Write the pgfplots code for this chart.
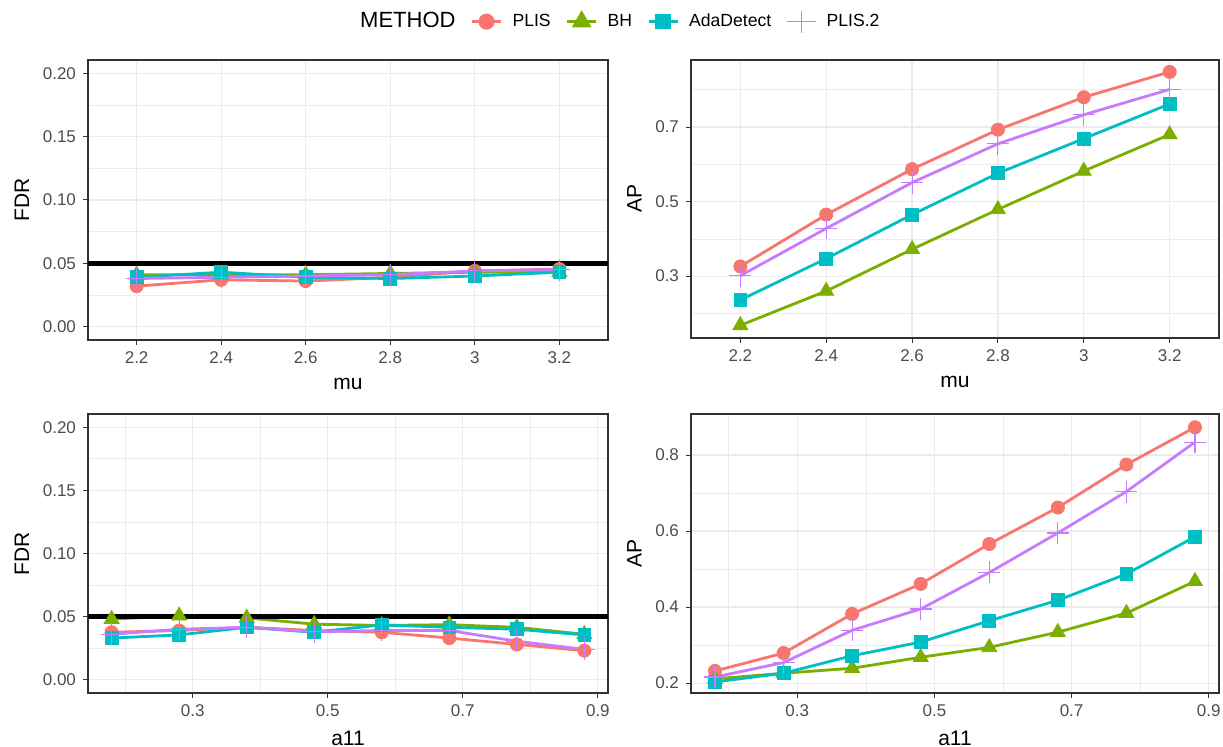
\documentclass[border=0pt]{standalone}
\usepackage{fontspec}
\setmainfont{Liberation Sans}
\usepackage{pgfplots}
\usepackage{pgfplotstable}
\pgfplotsset{compat=1.18}
\definecolor{cPLIS}{HTML}{F8766D}
\definecolor{cBH}{HTML}{7CAE00}
\definecolor{cAda}{HTML}{00BFC4}
\definecolor{cPLtwo}{HTML}{C77CFF}
\definecolor{gridc}{HTML}{EBEBEB}
\definecolor{tickc}{HTML}{4D4D4D}
\definecolor{framec}{HTML}{333333}

\pgfplotstableread{
x PLIS BH Ada PLtwo
2.2 0.032 0.041 0.039 0.038
2.4 0.037 0.041 0.043 0.039
2.6 0.036 0.041 0.039 0.040
2.8 0.039 0.042 0.038 0.041
3.0 0.044 0.043 0.040 0.044
3.2 0.0455 0.043 0.043 0.045
}\tabTL
\pgfplotstableread{
x PLIS BH Ada PLtwo
2.2 0.326 0.168 0.236 0.301
2.4 0.465 0.260 0.347 0.428
2.6 0.587 0.372 0.465 0.551
2.8 0.693 0.479 0.576 0.655
3.0 0.780 0.582 0.669 0.733
3.2 0.848 0.680 0.762 0.801
}\tabTR
\pgfplotstableread{
x PLIS BH Ada PLtwo
0.18 0.0376 0.048 0.033 0.036
0.28 0.039 0.0507 0.0355 0.040
0.38 0.0415 0.049 0.0415 0.0415
0.48 0.039 0.044 0.0376 0.038
0.58 0.0376 0.043 0.0434 0.039
0.68 0.033 0.0436 0.0415 0.039
0.78 0.028 0.0415 0.040 0.0305
0.88 0.023 0.036 0.0355 0.024
}\tabBL
\pgfplotstableread{
x PLIS BH Ada PLtwo
0.18 0.232 0.211 0.203 0.216
0.28 0.279 0.226 0.226 0.254
0.38 0.382 0.239 0.272 0.339
0.48 0.461 0.268 0.308 0.395
0.58 0.566 0.294 0.364 0.491
0.68 0.662 0.334 0.418 0.595
0.78 0.775 0.384 0.487 0.704
0.88 0.873 0.468 0.585 0.834
}\tabBR

\pgfplotsset{
 gg/.style={
  scale only axis,
  axis line style={framec, line width=0.6pt},
  grid=both,
  major grid style={gridc, line width=0.6pt},
  minor grid style={gridc, line width=0.35pt},
  tick align=outside, major tick length=2.5pt, minor tick length=0pt,
  every tick/.style={framec, line width=0.5pt},
  xtick pos=bottom, ytick pos=left,
  ticklabel style={font=\fontsize{8.5}{9}\selectfont, text=tickc},
  label style={font=\fontsize{10.5}{12}\selectfont},
  clip=true,
 },
 ln/.style={no marks, line width=1.4pt, forget plot},
 mkP/.style={only marks, mark=*, mark size=3.3pt, cPLIS, forget plot},
 mkB/.style={only marks, mark=triangle*, mark size=4.3pt, cBH, forget plot},
 mkA/.style={only marks, mark=square*, mark size=3.2pt, cAda, forget plot},
 mkT/.style={only marks, mark=+, mark size=5.5pt, cPLtwo, mark options={line width=0.55pt}, forget plot},
 topx/.style={xmin=2.085, xmax=3.315, xtick={2.2,2.4,2.6,2.8,3.0,3.2},
   xticklabels={2.2,2.4,2.6,2.8,3,3.2}, xlabel={mu}},
 botx/.style={xmin=0.145, xmax=0.915, xtick={0.3,0.5,0.7,0.9},
   xticklabels={0.3,0.5,0.7,0.9}, minor xtick={0.2,0.4,0.6,0.8}, xlabel={a11}},
 fdry/.style={ymin=-0.0105, ymax=0.2105, ytick={0,0.05,0.10,0.15,0.20},
   yticklabels={0.00,0.05,0.10,0.15,0.20}, minor ytick={0.025,0.075,0.125,0.175}, ylabel={FDR}},
}

\newcommand{\allseries}[1]{%
  \addplot[ln, cPLIS] table[x=x,y=PLIS] {#1};
  \addplot[ln, cBH] table[x=x,y=BH] {#1};
  \addplot[ln, cAda] table[x=x,y=Ada] {#1};
  \addplot[ln, cPLtwo] table[x=x,y=PLtwo] {#1};
  \addplot[mkP] table[x=x,y=PLIS] {#1};
  \addplot[mkB] table[x=x,y=BH] {#1};
  \addplot[mkA] table[x=x,y=Ada] {#1};
  \addplot[mkT] table[x=x,y=PLtwo] {#1};
}

\begin{document}
\begin{tikzpicture}
\useasboundingbox (0,0) rectangle (611.5pt,373.5pt);

% Top-left
\begin{axis}[gg, topx, fdry, at={(44pt,203.5pt)}, anchor=south west, width=260pt, height=140pt,
  legend style={at={(1.017,1.137)}, anchor=center, draw=none, fill=none,
    legend columns=5, font=\fontsize{8.8}{10}\selectfont,
    /tikz/every odd column/.append style={column sep=3pt},
    /tikz/every even column/.append style={column sep=5.5pt}},
  legend image code/.code={\draw[mark repeat=2,mark phase=2] plot coordinates {(0pt,0pt) (7.3pt,0pt) (14.6pt,0pt)};}]
\addlegendimage{empty legend}
\addlegendentry{\fontsize{11}{12}\selectfont METHOD}
\addlegendimage{color=cPLIS, line width=1.4pt, mark=*, mark size=3.3pt}
\addlegendentry{PLIS}
\addlegendimage{color=cBH, line width=1.4pt, mark=triangle*, mark size=4.3pt}
\addlegendentry{BH}
\addlegendimage{color=cAda, line width=1.4pt, mark=square*, mark size=3.2pt}
\addlegendentry{AdaDetect}
\addlegendimage{color=cPLtwo, draw=cPLtwo, line width=0.55pt, mark=+, mark size=5.5pt, mark options={draw=cPLtwo}}
\addlegendentry{PLIS.2}
\allseries{\tabTL}
\addplot[black, line width=2.4pt, no marks, forget plot] coordinates {(2.0,0.05) (3.4,0.05)};
\end{axis}

% Top-right
\begin{axis}[gg, topx, at={(345.5pt,204.5pt)}, anchor=south west, width=264pt, height=139pt,
  ymin=0.134, ymax=0.88, ytick={0.3,0.5,0.7}, yticklabels={0.3,0.5,0.7},
  minor ytick={0.2,0.4,0.6,0.8}, ylabel={AP}]
\allseries{\tabTR}
\end{axis}

% Bottom-left
\begin{axis}[gg, botx, fdry, at={(44pt,27pt)}, anchor=south west, width=260pt, height=139.5pt]
\allseries{\tabBL}
\addplot[black, line width=2.4pt, no marks, forget plot] coordinates {(0.1,0.05) (1.0,0.05)};
\end{axis}

% Bottom-right
\begin{axis}[gg, botx, at={(345.5pt,27pt)}, anchor=south west, width=264pt, height=139.5pt,
  ymin=0.174, ymax=0.908, ytick={0.2,0.4,0.6,0.8}, yticklabels={0.2,0.4,0.6,0.8},
  minor ytick={0.3,0.5,0.7}, ylabel={AP}]
\allseries{\tabBR}
\end{axis}
\end{tikzpicture}
\end{document}
